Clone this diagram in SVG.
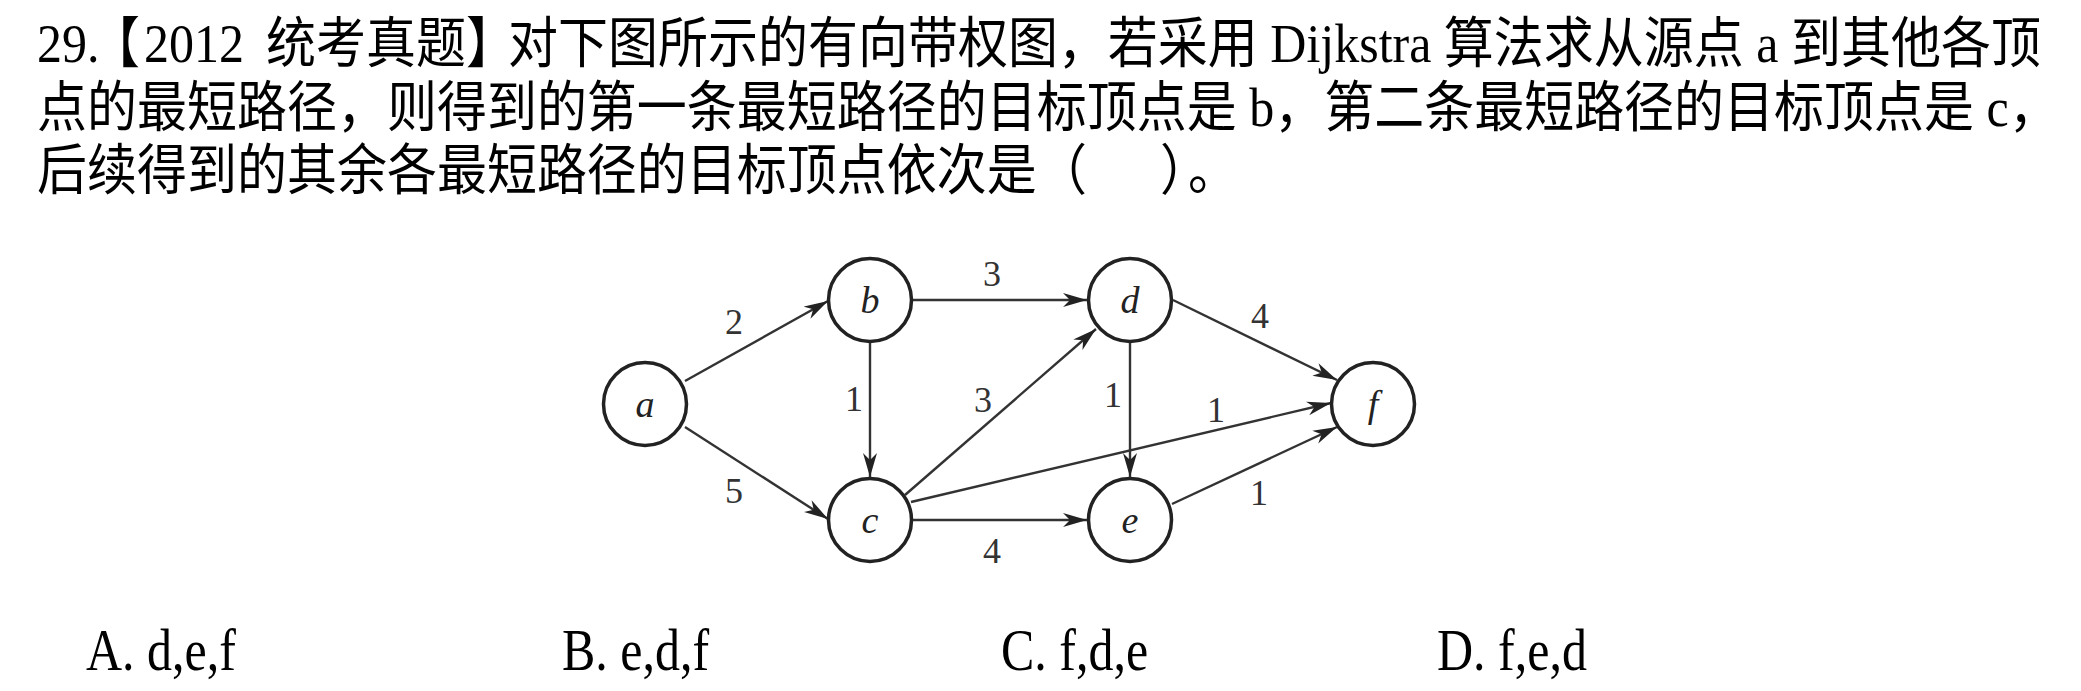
<svg xmlns="http://www.w3.org/2000/svg" width="2081" height="691" viewBox="0 0 2081 691">
<style>
.q{font-family:"Liberation Serif","Noto Sans CJK SC",serif;font-size:50px;fill:#000}
.opt{font-family:"Liberation Serif","Times New Roman",serif;font-size:50px;fill:#000}
.node circle{fill:#fff;stroke:#222;stroke-width:3.5}
.node text{font-family:"Liberation Serif",serif;font-style:italic;font-size:38px;fill:#222;text-anchor:middle}
.edge{stroke:#333;stroke-width:2.4;fill:none;marker-end:url(#arr)}
.w{font-family:"Liberation Serif",serif;font-size:36px;fill:#333;text-anchor:middle}
</style>
<defs>
<marker id="arr" markerWidth="26" markerHeight="16" refX="24" refY="8" orient="auto" markerUnits="userSpaceOnUse">
<path d="M0,1 L24,8 L0,15 L7,8 Z" fill="#222"/>
</marker>
</defs>
<rect width="2081" height="691" fill="#fff"/>
<g id="question">
<text class="q" transform="translate(0,62) scale(1,1.1)" x="37" y="0">29.<tspan x="90">【</tspan><tspan x="144">2012</tspan><tspan x="266">统考真题】</tspan><tspan x="508">对下图所示的有向带权图，若采用 Dijkstra 算法求从源点 a 到其他各顶</tspan></text>
<text class="q" transform="translate(0,126) scale(1,1.1)" x="37" y="0">点的最短路径，则得到的第一条最短路径的目标顶点是 b，第二条最短路径的目标顶点是 c，</text>
<text class="q" transform="translate(0,189) scale(1,1.1)" x="37" y="0">后续得到的其余各最短路径的目标顶点依次是<tspan x="1037">（</tspan><tspan x="1160">）</tspan><tspan x="1188">。</tspan></text>
</g>
<g id="connectors">
<path class="edge" d="M685,381 L828,301"/>
<path class="edge" d="M685,427 L828,519"/>
<path class="edge" d="M870,343 L870,477"/>
<path class="edge" d="M913,300 L1087,300"/>
<path class="edge" d="M905,495 L1096,329"/>
<path class="edge" d="M911,502 L1331,403"/>
<path class="edge" d="M913,520 L1087,520"/>
<path class="edge" d="M1130,343 L1130,477"/>
<path class="edge" d="M1173,300 L1337,380"/>
<path class="edge" d="M1172,504 L1337,427"/>
</g>
<g id="weights">
<text class="w" x="734" y="334">2</text>
<text class="w" x="734" y="503">5</text>
<text class="w" x="992" y="286">3</text>
<text class="w" x="854" y="411">1</text>
<text class="w" x="983" y="412">3</text>
<text class="w" x="992" y="563">4</text>
<text class="w" x="1113" y="407">1</text>
<text class="w" x="1216" y="422">1</text>
<text class="w" x="1260" y="328">4</text>
<text class="w" x="1259" y="505">1</text>
</g>
<g id="node-a" class="node"><circle cx="645" cy="404" r="41.5"/><text x="645" y="417">a</text></g>
<g id="node-b" class="node"><circle cx="870" cy="300" r="41.5"/><text x="870" y="313">b</text></g>
<g id="node-c" class="node"><circle cx="870" cy="520" r="41.5"/><text x="870" y="533">c</text></g>
<g id="node-d" class="node"><circle cx="1130" cy="300" r="41.5"/><text x="1130" y="313">d</text></g>
<g id="node-e" class="node"><circle cx="1130" cy="520" r="41.5"/><text x="1130" y="533">e</text></g>
<g id="node-f" class="node"><circle cx="1373" cy="404" r="41.5"/><text x="1373" y="417">f</text></g>
<g id="options">
<text class="opt" transform="translate(0,670) scale(1,1.18)" x="86" y="0">A. d,e,f</text>
<text class="opt" transform="translate(0,670) scale(1,1.18)" x="562" y="0">B. e,d,f</text>
<text class="opt" transform="translate(0,670) scale(1,1.18)" x="1001" y="0">C. f,d,e</text>
<text class="opt" transform="translate(0,670) scale(1,1.18)" x="1437" y="0">D. f,e,d</text>
</g>
</svg>
